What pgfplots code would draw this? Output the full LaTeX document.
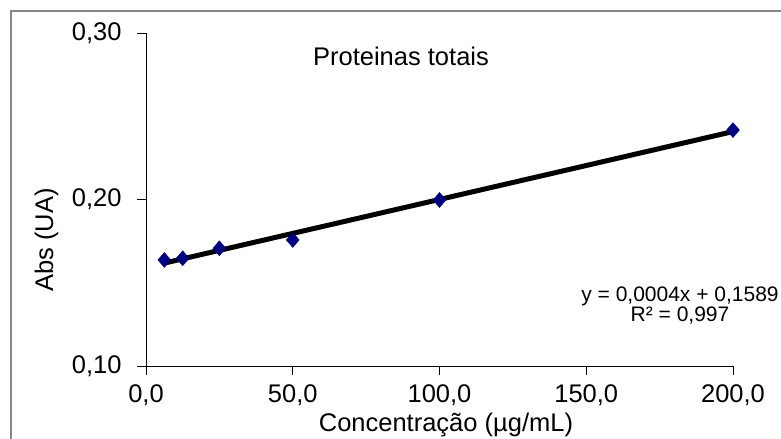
\documentclass[border=0pt]{standalone}
\usepackage{fontspec}
\setmainfont{Liberation Sans}
\usepackage{pgfplots}
\pgfplotsset{compat=1.18}
\definecolor{marknavy}{HTML}{000080}
\definecolor{framegray}{HTML}{868686}
\begin{document}
\begin{tikzpicture}
\useasboundingbox (0,0) rectangle (781bp,439bp);
\fill[white] (0,0) rectangle (781bp,439bp);
\draw[framegray, line width=1.2bp] (11bp,-10bp) -- (11bp,428bp) -- (800bp,428bp);
\begin{axis}[
  at={(146bp,73bp)}, anchor=south west,
  scale only axis, width=587bp, height=333bp,
  xmin=0, xmax=200, ymin=0.1, ymax=0.3,
  axis lines*=left,
  axis line style={line width=0.9bp, black},
  tick align=outside,
  major tick length=9bp,
  tick style={line width=0.9bp, black},
  xtick={0,50,100,150,200},
  ytick={0.1,0.2,0.3},
  minor tick num=0,
  /pgf/number format/assume math mode=true,
  xticklabel style={yshift=-6bp, /pgf/number format/.cd, fixed, fixed zerofill, precision=1, use comma},
  yticklabel style={xshift=-12bp, /pgf/number format/.cd, fixed, fixed zerofill, precision=2, use comma},
  tick label style={font=\fontsize{25.5bp}{30bp}\selectfont},
  xlabel={Concentração (µg/mL)},
  ylabel={Abs (UA)},
  label style={font=\fontsize{25.5bp}{30bp}\selectfont},
  xlabel style={at={(axis description cs:0.511,-0.198)}, anchor=base},
  ylabel style={at={(axis description cs:-0.1584,0.3784)}, anchor=base, rotate=0},
  clip=false,
]
\addplot[black, line width=5bp, no marks] coordinates {(6.25,0.1618) (200,0.2408)};
\addplot[only marks, mark=diamond*, mark size=7.5bp, mark options={xscale=1.15, fill=marknavy, draw=marknavy}] coordinates {
  (6.25,0.1637) (12.5,0.1647) (25,0.1707) (50,0.1757) (100,0.1997) (200,0.2417)
};
\end{axis}
\node[anchor=base, font=\fontsize{25.5bp}{30bp}\selectfont, inner sep=0pt] at (401bp,373bp) {Proteinas totais};
\node[anchor=base, font=\fontsize{21bp}{18bp}\selectfont, inner sep=0pt] at (680bp,137bp) {y = 0,0004x + 0,1589};
\node[anchor=base, font=\fontsize{21bp}{18bp}\selectfont, inner sep=0pt] at (680bp,117bp) {R² = 0,997};
\end{tikzpicture}
\end{document}
